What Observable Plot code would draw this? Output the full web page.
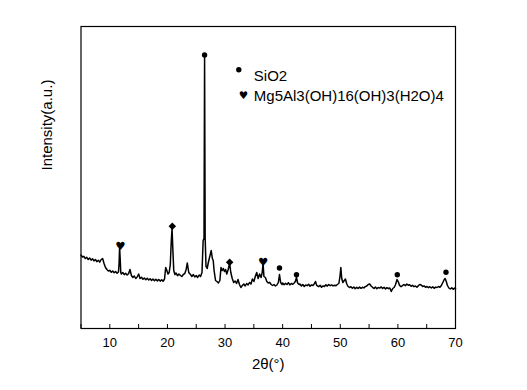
<!DOCTYPE html>
<html><head><meta charset="utf-8">
<script src="https://cdn.jsdelivr.net/npm/d3@7"></script>
<script src="https://cdn.jsdelivr.net/npm/@observablehq/plot@0.6"></script>
<style>body{margin:0;background:#fff} svg{font-family:"Liberation Sans",Arial,sans-serif}</style>
</head><body><div id="chart"></div>
<script>
// XRD pattern: [2θ (°), intensity (a.u.)]
const pattern = [
[5.0,735],[5.25,715],[5.5,722],[5.75,700],[6.0,712],[6.25,690],[6.5,705],[6.75,684],[7.0,698],[7.25,676],
[7.5,690],[7.75,668],[8.0,682],[8.25,664],[8.5,690],[8.75,700],[9.0,650],[9.25,610],[9.5,590],[9.75,575],
[10.0,582],[10.25,562],[10.5,575],[10.75,558],[11.0,570],[11.25,552],[11.5,565],[11.6,640],[11.7,810],[11.8,700],
[11.9,560],[12.0,545],[12.25,560],[12.5,538],[12.75,552],[13.0,535],[13.25,548],[13.5,590],[13.75,530],[14.0,510],
[14.25,525],[14.5,500],[14.75,515],[15.0,545],[15.25,500],[15.5,512],[15.75,492],[16.0,505],[16.25,488],[16.5,502],
[16.75,485],[17.0,498],[17.25,480],[17.5,495],[17.75,478],[18.0,492],[18.25,476],[18.5,490],[18.75,474],[19.0,488],
[19.25,472],[19.5,495],[19.7,610],[19.9,580],[20.1,545],[20.3,560],[20.5,640],[20.65,850],[20.8,1000],[20.95,780],
[21.1,580],[21.3,540],[21.5,555],[21.75,528],[22.0,545],[22.25,530],[22.5,520],[22.75,540],[23.0,548],[23.25,590],
[23.45,655],[23.7,560],[24.0,540],[24.25,520],[24.5,540],[24.75,515],[25.0,530],[25.25,510],[25.5,535],[25.75,520],
[26.0,560],[26.2,880],[26.35,900],[26.45,2715],[26.55,900],[26.7,620],[26.9,600],[27.1,660],[27.35,720],[27.6,780],
[27.8,700],[27.95,680],[28.1,580],[28.35,480],[28.6,470],[28.85,455],[29.1,480],[29.3,610],[29.5,580],[29.7,600],
[29.9,570],[30.1,590],[30.3,545],[30.55,590],[30.8,655],[31.0,560],[31.25,500],[31.5,460],[31.75,475],[32.0,450],
[32.25,490],[32.5,440],[32.75,410],[33.0,430],[33.25,445],[33.5,425],[33.75,450],[34.0,435],[34.25,460],[34.5,445],
[34.75,495],[35.0,470],[35.25,520],[35.5,560],[35.75,500],[36.0,545],[36.25,510],[36.45,560],[36.6,650],[36.75,520],
[37.0,510],[37.25,470],[37.5,455],[37.75,462],[38.0,440],[38.25,430],[38.5,440],[38.75,425],[39.0,435],[39.25,460],
[39.45,540],[39.65,460],[39.9,440],[40.0,455],[40.25,438],[40.5,452],[40.75,440],[41.0,458],[41.25,436],[41.5,450],
[41.75,442],[42.0,455],[42.2,470],[42.4,510],[42.6,455],[42.85,440],[43.0,445],[43.25,425],[43.5,440],[43.75,420],
[44.0,435],[44.25,428],[44.5,442],[44.75,422],[45.0,436],[45.25,430],[45.5,448],[45.7,470],[45.9,432],[46.25,418],
[46.5,432],[46.75,412],[47.0,426],[47.25,420],[47.5,438],[47.75,424],[48.0,440],[48.25,428],[48.5,436],[48.75,426],
[49.0,432],[49.25,428],[49.5,440],[49.75,450],[49.95,520],[50.1,610],[50.25,500],[50.45,460],[50.7,480],[50.9,495],
[51.1,450],[51.35,420],[51.6,410],[51.85,418],[52.1,402],[52.35,415],[52.6,398],[52.85,412],[53.1,400],[53.35,414],
[53.6,402],[53.85,412],[54.1,406],[54.35,418],[54.6,425],[54.85,440],[55.1,445],[55.35,425],[55.6,412],[55.85,400],
[56.1,414],[56.35,398],[56.6,410],[56.85,404],[57.1,416],[57.35,400],[57.6,412],[57.85,396],[58.1,408],[58.35,398],
[58.6,405],[58.85,370],[59.1,400],[59.35,410],[59.6,440],[59.85,490],[60.05,470],[60.3,430],[60.55,418],[60.8,428],
[61.05,440],[61.3,428],[61.55,445],[61.8,432],[62.05,438],[62.3,422],[62.55,432],[62.8,418],[63.05,425],[63.3,412],
[63.55,428],[63.8,440],[64.05,435],[64.3,420],[64.55,426],[64.8,412],[65.05,420],[65.3,408],[65.55,418],[65.8,405],
[66.05,416],[66.3,402],[66.55,414],[66.8,410],[67.05,420],[67.3,412],[67.55,430],[67.8,460],[68.05,490],[68.2,500],
[68.4,470],[68.6,430],[68.85,405],[69.1,395],[69.35,408],[69.6,392],[69.85,404],[70.0,398]
];
// Phase markers: [2θ, marker height]
const sio2Peaks = [[26.45,2735],[39.45,605],[42.4,537],[59.9,537],[68.35,563]];
const diamondPeaks = [[20.85,1023],[30.8,663]];
const mgAlPeaks = [[11.85,820],[36.6,663]];
const xTickLabels = [10,20,30,40,50,60,70];
const xTicks = [5,10,15,20,25,30,35,40,45,50,55,60,65,70];
const legendLabels = ["SiO2","Mg5Al3(OH)16(OH)3(H2O)4"];
const xLabel = "2θ(°)";
const yLabel = "Intensity(a.u.)";

const W = 527, H = 390, mL = 80.5, mR = 72, mT = 26, mB = 62;
const innerH = H - mT - mB;
const font = "'Liberation Sans', Arial, sans-serif";

const chart = Plot.plot({
  width: W, height: H,
  marginLeft: mL, marginRight: mR, marginTop: mT, marginBottom: mB,
  style: {fontFamily: font, fontSize: "13px", color: "#000", background: "#fff"},
  x: {domain: [5, 70]},
  y: {domain: [0, 3020], axis: null},
  marks: [
    Plot.frame({stroke: "#000", strokeWidth: 1.2}),
    Plot.tickX(xTicks, {x: d => d, insetTop: innerH - 4, stroke: "#000", strokeWidth: 1}),
    Plot.axisX(xTickLabels, {tickSize: 0, tickPadding: 9, fontSize: 13, label: null}),
    Plot.line(pattern, {x: d => d[0], y: d => d[1], stroke: "#000", strokeWidth: 1.5}),
    Plot.dot(sio2Peaks, {x: d => d[0], y: d => d[1], r: 2.7, fill: "#000", stroke: null}),
    Plot.dot(diamondPeaks, {x: d => d[0], y: d => d[1], symbol: "diamond2", r: 3.4, fill: "#000", stroke: null}),
    Plot.text(mgAlPeaks, {x: d => d[0], y: d => d[1], text: () => "♥", fontSize: 11.5, fill: "#000", fontFamily: "DejaVu Sans"}),
    // legend
    Plot.dot([legendLabels[0]], {frameAnchor: "top-left", dx: 157.8, dy: 43.3, r: 2.7, fill: "#000", stroke: null}),
    Plot.text([legendLabels[0]], {frameAnchor: "top-left", dx: 172.8, dy: 43.7, text: d => d, textAnchor: "start", fontSize: 15, fill: "#000"}),
    Plot.text(["♥"], {frameAnchor: "top-left", dx: 157.8, dy: 64.7, text: d => d, fontSize: 10.5, fill: "#000", fontFamily: "DejaVu Sans"}),
    Plot.text([legendLabels[1]], {frameAnchor: "top-left", dx: 172.8, dy: 64.3, text: d => d, textAnchor: "start", fontSize: 15, fill: "#000"}),
    // axis titles
    Plot.text([xLabel], {frameAnchor: "bottom", dy: 40, text: d => d, fontSize: 15, fill: "#000"}),
    Plot.text([yLabel], {frameAnchor: "left", dx: -33.5, dy: -7, rotate: -90, text: d => d, fontSize: 15, fill: "#000"})
  ]
});
document.getElementById("chart").appendChild(chart);
</script>
</body></html>
